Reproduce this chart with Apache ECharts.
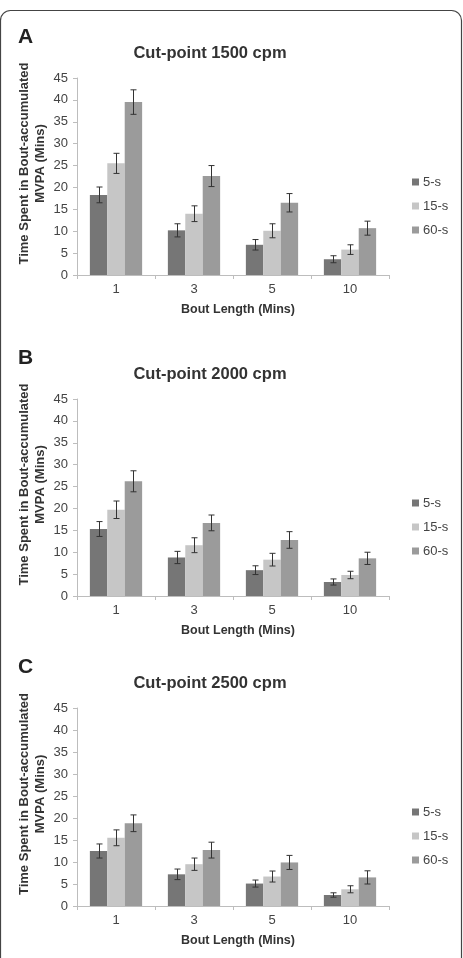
<!DOCTYPE html>
<html>
<head>
<meta charset="utf-8">
<script src="https://cdn.jsdelivr.net/npm/echarts@6/dist/echarts.min.js"></script>
<style>
  html, body { margin: 0; padding: 0; background: #fff; }
  #chart { width: 463px; height: 958px; }
</style>
</head>
<body>
<div id="chart"></div>
<script>
const categories = ['1', '3', '5', '10']
const seriesNames = ['5-s', '15-s', '60-s']
const yTicks = [0, 5, 10, 15, 20, 25, 30, 35, 40, 45]

// Panel A - cut-point 1500 cpm
const a5 = [18.3, 10.2, 6.9, 3.6]
const a15 = [25.5, 14.0, 10.1, 5.8]
const a60 = [39.5, 22.6, 16.5, 10.7]
const a5Err = [1.8, 1.5, 1.2, 0.8]
const a15Err = [2.3, 1.8, 1.6, 1.1]
const a60Err = [2.8, 2.4, 2.1, 1.6]

// Panel B - cut-point 2000 cpm
const b5 = [15.3, 8.8, 5.9, 3.2]
const b15 = [19.7, 11.6, 8.3, 4.8]
const b60 = [26.2, 16.7, 12.8, 8.6]
const b5Err = [1.7, 1.4, 1.0, 0.7]
const b15Err = [2.0, 1.7, 1.45, 0.85]
const b60Err = [2.4, 1.8, 1.9, 1.4]

// Panel C - cut-point 2500 cpm
const c5 = [12.5, 7.2, 5.1, 2.5]
const c15 = [15.5, 9.5, 6.7, 3.8]
const c60 = [18.8, 12.7, 9.9, 6.5]
const c5Err = [1.6, 1.2, 0.8, 0.5]
const c15Err = [1.8, 1.4, 1.25, 0.8]
const c60Err = [1.9, 1.8, 1.6, 1.5]

const colors = ['#767676', '#c6c6c6', '#9b9b9b']
const font = 'Liberation Sans, Arial, sans-serif'
const catGap = 0.33

const panels = [
  { letter: 'A', title: 'Cut-point 1500 cpm', top: 78, height: 197, values: [a5, a15, a60], errs: [a5Err, a15Err, a60Err] },
  { letter: 'B', title: 'Cut-point 2000 cpm', top: 399, height: 197, values: [b5, b15, b60], errs: [b5Err, b15Err, b60Err] },
  { letter: 'C', title: 'Cut-point 2500 cpm', top: 708, height: 198, values: [c5, c15, c60], errs: [c5Err, c15Err, c60Err] }
]

function errorRenderer(idx) {
  return function (params, api) {
    const cat = api.value(0)
    const hi = api.coord([cat, api.value(2)])
    const lo = api.coord([cat, api.value(1)])
    const band = api.size([1, 0])[0]
    const bw = band * (1 - catGap) / 3
    const x = Math.round(hi[0] + (idx - 1) * bw) + 0.5
    const cap = 3
    const style = { stroke: '#333', lineWidth: 1 }
    return {
      type: 'group',
      children: [
        { type: 'line', shape: { x1: x, y1: hi[1], x2: x, y2: lo[1] }, style },
        { type: 'line', shape: { x1: x - cap, y1: hi[1], x2: x + cap, y2: hi[1] }, style },
        { type: 'line', shape: { x1: x - cap, y1: lo[1], x2: x + cap, y2: lo[1] }, style }
      ]
    }
  }
}

const chart = echarts.init(document.getElementById('chart'))

const option = {
  animation: false,
  backgroundColor: '#fff',
  title: [],
  legend: [],
  grid: [],
  xAxis: [],
  yAxis: [],
  series: [],
  graphic: [
    {
      type: 'rect',
      shape: { x: 0.5, y: 10.5, width: 461, height: 1000, r: 10 },
      style: { fill: 'none', stroke: '#444', lineWidth: 1.2 }
    }
  ]
}

panels.forEach((p, gi) => {
  option.title.push({
    text: p.letter,
    left: 13,
    top: p.top - 56,
    textStyle: { fontFamily: font, fontSize: 21, fontWeight: 'bold', color: '#222' }
  })
  option.title.push({
    text: p.title,
    left: 205,
    top: p.top - 38,
    textAlign: 'center',
    textStyle: { fontFamily: font, fontSize: 16.5, fontWeight: 'bold', color: '#333' }
  })
  option.legend.push({
    data: seriesNames,
    orient: 'vertical',
    left: 407,
    top: p.top + 92,
    icon: 'rect',
    itemWidth: 7,
    itemHeight: 7,
    itemGap: 10,
    selectedMode: false,
    textStyle: { fontFamily: font, fontSize: 13, color: '#444', lineHeight: 14, padding: [0, 0, 0, -1] }
  })
  option.grid.push({ left: 77, right: 74, top: p.top, height: p.height })
  option.xAxis.push({
    type: 'category',
    gridIndex: gi,
    data: categories,
    name: 'Bout Length (Mins)',
    nameLocation: 'middle',
    nameGap: 28,
    nameTextStyle: { fontFamily: font, fontSize: 12.5, fontWeight: 'bold', color: '#333', padding: [0, 0, 0, 10] },
    axisLine: { lineStyle: { color: '#bdbdbd' } },
    axisTick: { show: true, length: 4, lineStyle: { color: '#bdbdbd' } },
    axisLabel: { fontFamily: font, fontSize: 13, color: '#444', margin: 8 }
  })
  option.yAxis.push({
    type: 'value',
    gridIndex: gi,
    min: yTicks[0],
    max: yTicks[yTicks.length - 1],
    interval: 5,
    splitLine: { show: false },
    axisLine: { show: true, lineStyle: { color: '#bdbdbd' } },
    axisTick: { show: true, length: 4, lineStyle: { color: '#bdbdbd' } },
    axisLabel: { fontFamily: font, fontSize: 13, color: '#444', margin: 9 }
  })
  option.graphic.push({
    type: 'text',
    x: 32,
    y: p.top + p.height / 2 - 13,
    rotation: Math.PI / 2,
    style: {
      text: 'Time Spent in Bout-accumulated\nMVPA (Mins)',
      fontFamily: font,
      fontSize: 13,
      fontWeight: 'bold',
      lineHeight: 16,
      fill: '#333',
      align: 'center',
      verticalAlign: 'middle'
    }
  })
  seriesNames.forEach((name, si) => {
    option.series.push({
      name,
      type: 'bar',
      xAxisIndex: gi,
      yAxisIndex: gi,
      barGap: '0%',
      barCategoryGap: '33%',
      itemStyle: { color: colors[si] },
      data: p.values[si]
    })
  })
  seriesNames.forEach((name, si) => {
    const vals = p.values[si]
    const errs = p.errs[si]
    option.series.push({
      type: 'custom',
      xAxisIndex: gi,
      yAxisIndex: gi,
      renderItem: errorRenderer(si),
      z: 10,
      data: vals.map((v, i) => [i, v - errs[i], v + errs[i]])
    })
  })
})

chart.setOption(option)
</script>
</body>
</html>
